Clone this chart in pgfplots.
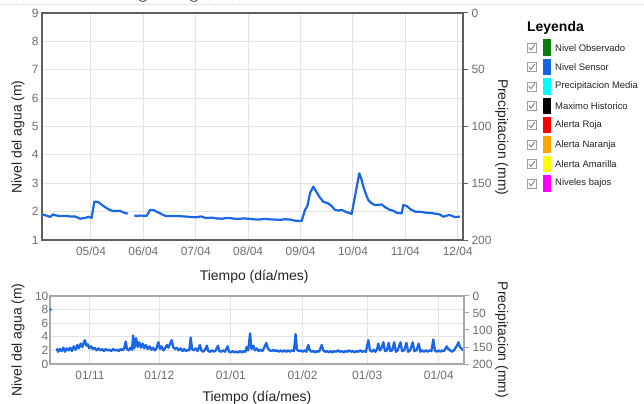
\documentclass[border=0pt]{standalone}
\usepackage{pgfplots}
\pgfplotsset{compat=1.18}
\usepackage{fontspec}
\setmainfont{Liberation Sans}
\newfontfamily\dejavu{DejaVu Sans}
\definecolor{lineblue}{RGB}{26,102,230}
\definecolor{gridgray}{RGB}{228,228,228}
\definecolor{framedark}{RGB}{95,95,95}
\definecolor{framelight}{RGB}{168,168,168}
\definecolor{ticklbl}{RGB}{110,110,110}
\definecolor{labelcol}{RGB}{34,34,34}
\definecolor{cobs}{RGB}{10,125,10}
\definecolor{csen}{RGB}{20,100,230}
\definecolor{ccyan}{RGB}{0,255,255}
\definecolor{cred}{RGB}{255,0,0}
\definecolor{corange}{RGB}{255,165,0}
\definecolor{cyellow}{RGB}{255,255,0}
\definecolor{cmag}{RGB}{255,0,255}

\pgfplotsset{
  base/.style={
    scale only axis, anchor=south west,
    /pgf/number format/assume math mode=true,
    tick label style={font=\fontsize{12}{14}\selectfont, text=ticklbl},
    label style={font=\fontsize{14}{16}\selectfont, text=labelcol},
  }
}

\begin{document}
\begin{tikzpicture}
\useasboundingbox (0,0) rectangle (644bp,404bp);
\clip (0,0) rectangle (644bp,404bp);

% top header (cut off)
\node[anchor=base west, inner sep=0pt, font=\fontsize{14}{16}\selectfont, text=labelcol] at (-8bp,403bp)
  {Seleccione la variable: {\dejavu ○} Nivel {\dejavu ○} Caudal};
\draw[gridgray, line width=1bp] (0,399.5bp) -- (644bp,399.5bp);

% ===== top chart =====
\begin{axis}[base,
  at={(42bp,164bp)}, width=421bp, height=227bp,
  xmin=4.065, xmax=12.1, ymin=1, ymax=9,
  xtick={5,6,7,8,9,10,11,12},
  xticklabels={05/04,06/04,07/04,08/04,09/04,10/04,11/04,12/04},
  ytick={1,2,3,4,5,6,7,8,9},
  grid=major, grid style={draw=gridgray, line width=1bp},
  axis line style={draw=framedark, line width=1.8bp},
  major tick length=0pt,
  xticklabel style={yshift=-3bp},
  xlabel={Tiempo (día/mes)}, ylabel={Nivel del agua (m)},
  xlabel style={at={(axis description cs:0.504,-0.163)}, anchor=center},
  ylabel style={at={(axis description cs:-0.057,0.454)}, anchor=center},
  unbounded coords=jump,
]
\addplot[lineblue, line width=2.2bp, line join=round] coordinates {
(4.065,1.90) (4.15,1.86) (4.218,1.81) (4.275,1.90) (4.33,1.87) (4.40,1.84) (4.50,1.85)
(4.60,1.83) (4.70,1.83) (4.79,1.75) (4.85,1.77) (4.90,1.78) (4.95,1.82) (4.98,1.80) (5.013,1.78)
(5.063,2.35) (5.139,2.34) (5.22,2.22) (5.30,2.12) (5.36,2.06) (5.42,2.02) (5.50,2.02)
(5.553,2.03) (5.62,1.97) (5.681,1.94) (5.70,1.92)
(5.76,nan)
(5.826,1.85) (5.95,1.86) (6.063,1.85) (6.126,2.06) (6.189,2.06) (6.25,2.00) (6.317,1.94)
(6.38,1.88) (6.445,1.84) (6.55,1.85) (6.7,1.84) (6.85,1.82) (7.0,1.80) (7.1,1.83)
(7.2,1.77) (7.3,1.79) (7.4,1.76) (7.5,1.75) (7.6,1.78) (7.7,1.76) (7.8,1.74) (7.9,1.76)
(8.0,1.75) (8.1,1.73) (8.2,1.72) (8.3,1.74) (8.4,1.73) (8.5,1.72) (8.6,1.71) (8.7,1.73)
(8.8,1.72) (8.9,1.68) (8.989,1.67) (9.021,1.67) (9.084,2.06) (9.13,2.20) (9.18,2.65)
(9.242,2.88) (9.30,2.70) (9.36,2.52) (9.433,2.35) (9.529,2.29) (9.60,2.18) (9.656,2.06)
(9.72,2.04) (9.784,2.06) (9.88,1.98) (9.975,1.92) (10.038,2.53) (10.08,2.95) (10.12,3.35)
(10.16,3.15) (10.197,2.88) (10.25,2.60) (10.292,2.41) (10.35,2.30) (10.42,2.23) (10.48,2.24)
(10.548,2.25) (10.62,2.15) (10.706,2.06) (10.77,2.03) (10.834,1.96) (10.929,1.94)
(10.96,2.23) (11.025,2.20) (11.10,2.08) (11.183,2.00) (11.30,1.99) (11.406,1.96)
(11.50,1.95) (11.597,1.92) (11.66,1.90) (11.723,1.82) (11.79,1.86) (11.851,1.88)
(11.90,1.84) (11.947,1.81) (12.042,1.82)
};
\end{axis}

\begin{axis}[base,
  at={(42bp,164bp)}, width=421bp, height=227bp,
  xmin=0, xmax=1, ymin=0, ymax=200, y dir=reverse,
  axis x line=none, axis y line*=right,
  ytick={0,50,100,150,200},
  y axis line style={draw=framedark, line width=1.8bp, -},
  ytick style={draw=framedark, line width=1bp},
  tick align=outside, major tick length=5bp,
  ylabel={Precipitacion (mm)},
  ylabel style={at={(axis description cs:1.092,0.453)}, anchor=center, rotate=180},
]
\addplot[draw=none] coordinates {(0,0)};
\end{axis}

% ===== bottom chart =====
\begin{axis}[base,
  at={(50bp,40bp)}, width=414bp, height=68bp,
  xmin=-17.3, xmax=161.9, ymin=0, ymax=10,
  xtick={0,30,61,92,120,151},
  xticklabels={01/11,01/12,01/01,01/02,01/03,01/04},
  ytick={0,2,4,6,8,10},
  grid=major, grid style={draw=gridgray, line width=1bp},
  axis line style={draw=framelight, line width=1.6bp},
  major tick length=0pt,
  xticklabel style={yshift=-3bp},
  yticklabel style={inner sep=1.5pt},
  xlabel={Tiempo (día/mes)}, ylabel={Nivel del agua (m)},
  xlabel style={at={(axis description cs:0.5,-0.49)}, anchor=center},
  ylabel style={at={(axis description cs:-0.077,0.353)}, anchor=center},
]
\addplot[only marks, mark=*, mark size=1.1bp, lineblue] coordinates {(-17.0,8.0)};
\addplot[lineblue, line width=2.3bp, line join=round] coordinates {
(-14.4,2.3) (-13.8,1.8) (-13,2.2) (-12.3,1.9) (-11.5,2.4) (-10.8,1.8) (-10,2.3) (-9.2,2.0)
(-8.5,2.4) (-7.8,1.9) (-7,2.6) (-6.2,2.1) (-5.5,2.8) (-4.8,2.3) (-4,3.0) (-3.3,2.5)
(-2.6,3.2) (-2.2,3.5) (-1.6,2.7) (-1,2.9) (-0.3,2.3) (0.5,2.6) (1.2,2.2) (2,2.4)
(2.9,2.0) (3.7,2.3) (4.5,2.0) (5.3,2.2) (6,1.9) (6.8,2.2) (7.6,2.0) (8.4,2.1)
(9.2,1.9) (10,2.2) (10.8,2.0) (11.6,2.1) (12.4,1.9) (13.2,2.2) (14,2.0) (14.8,2.3)
(15.5,3.3) (16,2.2) (16.8,2.0) (17.5,2.4) (18.2,2.1) (18.7,4.2) (19.2,2.3) (20,3.8)
(20.6,2.5) (21.3,3.2) (22,2.4) (22.8,3.0) (23.5,2.3) (24.2,2.8) (25,2.2) (25.8,2.6)
(26.5,2.1) (27.3,2.4) (28,2.0) (28.8,2.3) (29.6,3.2) (30.3,2.2) (31,2.6) (31.8,2.0)
(32.5,2.3) (33.3,2.8) (34,2.4) (34.7,3.0) (35.4,3.5) (36,2.5) (36.8,2.2) (37.6,2.4)
(38.4,2.0) (39.2,2.3) (40,1.9) (40.8,2.2) (41.6,1.9) (42.4,2.1) (43,2.0) (43.6,3.9)
(44.2,2.2) (45,2.0) (45.8,2.3) (46.6,1.9) (47.6,2.8) (48.2,2.0) (49,1.8) (49.8,2.1)
(50.6,2.7) (51.2,1.9) (52,1.8) (52.8,2.0) (53.6,1.8) (54.4,2.0) (55.4,2.7) (56,1.9)
(56.8,1.8) (57.6,2.0) (58.4,1.8) (59.6,2.6) (60.2,1.8) (61,1.7) (61.8,1.9) (62.6,1.7)
(63.4,1.8) (64.2,1.7) (65,1.9) (65.8,1.7) (66.6,1.9) (67.3,1.8) (67.8,2.5) (68.5,2.0)
(69.3,4.5) (69.9,2.2) (70.7,2.7) (71.4,2.0) (72.2,2.3) (73,1.9) (73.8,2.1) (74.6,1.9)
(75.4,2.4) (76.3,3.1) (77,2.3) (77.8,2.0) (78.6,1.9) (79.4,2.1) (80.2,1.9) (81,2.0)
(81.8,1.8) (82.6,2.0) (83.4,1.8) (84.2,2.0) (85,1.8) (85.8,2.0) (86.6,1.8) (87.4,2.0)
(88.3,1.9) (89,4.4) (89.6,2.1) (90.4,1.9) (91.2,2.0) (92,1.8) (92.8,2.0) (93.6,1.8)
(94.5,2.8) (95.2,2.0) (96,1.8) (96.8,1.9) (97.6,1.7) (98.4,1.9) (99.2,1.8) (100.3,2.8)
(101,2.0) (101.8,1.8) (102.6,1.9) (103.4,1.7) (104.2,1.9) (105,1.7) (105.8,1.9) (106.6,1.8)
(107.4,2.0) (108.2,1.8) (109,1.9) (109.8,1.7) (110.6,1.9) (111.4,1.8) (112.2,2.0) (113,1.8)
(113.8,1.9) (114.6,1.7) (115.4,1.9) (116.2,1.8) (117,2.0) (117.8,1.8) (118.6,1.9) (119.4,1.8)
(120.5,3.5) (121.2,2.0) (122,1.8) (122.8,2.1) (123.6,1.8) (124.3,2.2) (124.8,3.0) (125.5,2.0)
(126.3,2.4) (127,3.2) (127.7,1.9) (128.5,2.0) (129.3,3.1) (130,1.9) (130.8,2.0) (131.7,3.2)
(132.4,1.8) (133.2,2.0) (134.4,3.2) (135.1,1.9) (136,2.0) (137,3.1) (137.7,1.8) (138.6,2.0)
(139.7,3.2) (140.4,1.9) (141.3,2.0) (142.3,3.0) (143,1.8) (143.8,2.0) (144.6,1.8) (145.4,2.0)
(146.2,1.8) (147,2.0) (147.8,1.9) (148.6,3.6) (149.3,2.0) (150.1,1.8) (150.9,2.0) (151.7,1.8)
(152.5,2.0) (153.3,1.9) (154.4,2.6) (155.1,2.2) (155.9,2.0) (156.7,1.8) (157.5,2.0) (158.3,2.4)
(159,2.8) (159.5,3.2) (160.1,2.5) (160.8,2.3) (161.6,2.0)
};
\end{axis}

\begin{axis}[base,
  at={(50bp,40bp)}, width=414bp, height=68bp,
  xmin=0, xmax=1, ymin=0, ymax=200, y dir=reverse,
  axis x line=none, axis y line*=right,
  ytick={0,50,100,150,200},
  y axis line style={draw=framelight, line width=1.6bp, -},
  ytick style={draw=framelight, line width=1bp},
  tick align=outside, major tick length=5bp,
  ylabel={Precipitacion (mm)},
  ylabel style={at={(axis description cs:1.091,0.353)}, anchor=center, rotate=180},
]
\addplot[draw=none] coordinates {(0,0)};
\end{axis}

% ===== legend =====
\node[anchor=base west, inner sep=0pt, font=\fontsize{14}{16}\selectfont\bfseries, text=black] at (527bp,372bp) {Leyenda};
\foreach \i/\c/\t in {0/cobs/Nivel Observado, 1/csen/Nivel Sensor, 2/ccyan/Precipitacion Media,
  3/black/Maximo Historico, 4/cred/Alerta Roja, 5/corange/Alerta Naranja,
  6/cyellow/Alerta Amarilla, 7/cmag/Niveles bajos}{
  \pgfmathsetmacro{\yc}{404-47.7-19.4*\i}
  \draw[gray!75, line width=0.7bp, fill=white] (527bp,\yc bp-4.5bp) rectangle ++(9bp,9bp);
  \draw[gray!90!black, line width=0.8bp] (528.8bp,\yc bp+0.2bp) -- (531bp,\yc bp-2.2bp) -- (534.8bp,\yc bp+3bp);
  \fill[\c] (543.3bp,\yc bp-8.2bp) rectangle ++(7.4bp,16.4bp);
  \node[anchor=west, inner sep=0pt, font=\fontsize{9.5}{11}\selectfont, text=labelcol] at (555bp,\yc bp) {\t};
}
\end{tikzpicture}
\end{document}
